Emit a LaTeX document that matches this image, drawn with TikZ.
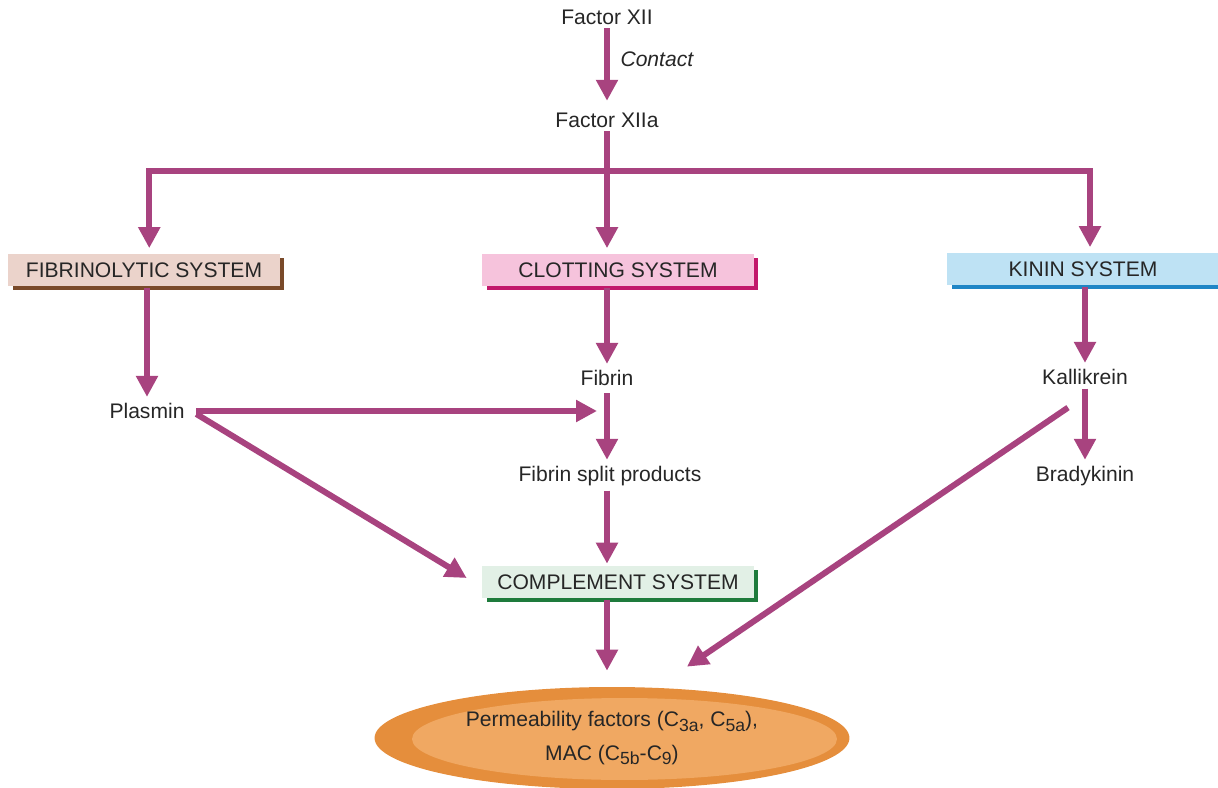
\documentclass[tikz,border=0pt]{standalone}
\usepackage{fontspec}
\setmainfont{Liberation Sans}
\usetikzlibrary{arrows.meta,shapes.geometric,shadows}
\definecolor{arrowc}{HTML}{A8437F}
\definecolor{fibfill}{HTML}{EBD3CB}
\definecolor{fibshd}{HTML}{7A4A2A}
\definecolor{clotfill}{HTML}{F6C3DC}
\definecolor{clotshd}{HTML}{C2186B}
\definecolor{kinfill}{HTML}{BEE2F4}
\definecolor{kinshd}{HTML}{1F86C6}
\definecolor{compfill}{HTML}{E2F0E6}
\definecolor{compshd}{HTML}{1E7B3C}
\definecolor{orgout}{HTML}{E58E3C}
\definecolor{orgin}{HTML}{F0A862}
\newcommand\lowidx[1]{\raisebox{-0.4ex}{\fontsize{10}{10}\selectfont #1}}
\tikzset{
  flow/.style={-{Triangle[length=4.2mm,width=4.2mm]}, line width=1.2mm, arrowc},
  lbl/.style={font=\fontsize{12}{14}\selectfont, text=black!85, inner sep=2pt},
  sysbox/.style={lbl, minimum width=5.44cm, minimum height=0.64cm, inner sep=0pt,
    drop shadow={shadow xshift=0.09cm, shadow yshift=-0.08cm, fill=#1, opacity=1}},
  perm/.style={ellipse, fill=orgout, minimum width=9.5cm, minimum height=2.04cm,
    inner sep=0pt, align=center, font=\fontsize{12}{19}\selectfont, text=black!85,
    path picture={\fill[orgin] ([xshift=0.25cm,yshift=-0.02cm]path picture bounding box.center)
      ellipse [x radius=4.25cm, y radius=0.82cm];}},
}
\begin{document}
\begin{tikzpicture}[x=0.02cm,y=-0.02cm]
  \useasboundingbox (0,0) rectangle (1218,788);
  % top of the cascade
  \node[lbl] (f12) at (607,17) {Factor XII};
  \node[lbl] (f12a) at (607,120) {Factor XIIa};
  \draw[flow, shorten >=1.6mm] (f12) -- (f12a) node[pos=0.38, right=4pt, lbl, font=\fontsize{12}{14}\selectfont\itshape] {Contact};
  % three systems
  \node[sysbox=fibshd, fill=fibfill] (fib) at (144,270) {FIBRINOLYTIC SYSTEM};
  \node[sysbox=clotshd, fill=clotfill] (clot) at (618,270) {CLOTTING SYSTEM};
  \node[sysbox=kinshd, fill=kinfill] (kin) at (1083,269) {KININ SYSTEM};
  \coordinate (br) at (607,171);
  \draw[arrowc, line width=1.2mm] (f12a) -- (br);
  \draw[flow, shorten >=1.1mm] (br) -| ([xshift=3pt]fib.north);
  \draw[flow, shorten >=1.1mm] (br) -| ([xshift=4pt]kin.north);
  \draw[flow, shorten >=1.1mm] (br) -- (br |- clot.north);
  % products
  \node[lbl] (plas) at (147,411) {Plasmin};
  \node[lbl] (fibrin) at (607,378) {Fibrin};
  \node[lbl] (fsp) at (610,476) {Fibrin split products};
  \node[lbl] (kal) at (1085,377) {Kallikrein};
  \node[lbl] (brady) at (1085,476) {Bradykinin};
  \node[sysbox=compshd, fill=compfill] (comp) at (618,582) {COMPLEMENT SYSTEM};
  \node[perm] (permf) at (612,738) {Permeability factors (C\lowidx{3a}, C\lowidx{5a}),\\MAC (C\lowidx{5b}-C\lowidx{9})};
  \draw[flow, shorten <=0.3mm, shorten >=0.5mm] (fib.south -| plas) -- (plas);
  \draw[flow, shorten <=0.3mm, shorten >=0.5mm] (fibrin |- clot.south) -- (fibrin);
  \draw[flow, shorten <=0.3mm, shorten >=0.5mm] (kin.south -| kal) -- (kal);
  \draw[flow, shorten >=0.5mm] (fibrin |- 0,393) -- (fibrin |- fsp.north);
  \draw[flow, shorten >=0.5mm] (kal) -- (brady);
  \coordinate (fibx) at (597,411);
  \draw[flow, shorten <=0.16cm] (plas.east) -- (fibx);
  \draw[flow] ([shift={(8,3)}]plas.east) -- ([shift={(-15,-4)}]comp.west);
  \draw[flow, shorten <=0.2mm, shorten >=0.4mm] (fibrin |- fsp.south) -- (fibrin |- comp.north);
  \draw[flow, shorten <=0.3mm] (fibrin |- comp.south) -- ([yshift=0.32cm]permf.north -| fibrin);
  \draw[flow] ([shift={(-17,19)}]kal.south) -- ([shift={(75,-20)}]permf.north);
\end{tikzpicture}
\end{document}
